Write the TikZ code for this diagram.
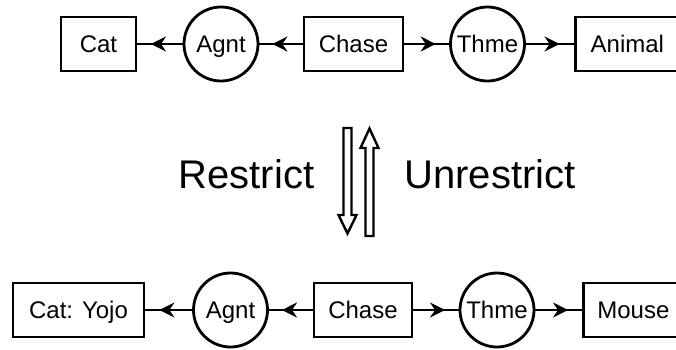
\documentclass[tikz,border=0pt]{standalone}
\usepackage{fontspec}
\setmainfont{Liberation Sans}
\usetikzlibrary{arrows.meta,positioning}

\begin{document}
\begin{tikzpicture}[x=1pt,y=-1pt
	,line width=2.8pt
	,font=\fontsize{24}{28}\selectfont
	,concept/.style={draw,rectangle,minimum height=54pt,inner sep=0pt
		,text height=17pt,text depth=0pt}
	,relation/.style={draw,circle,minimum size=74pt,inner sep=0pt
		,text height=17pt,text depth=0pt}
	,tip/.style={-{Stealth[length=15pt,width=15pt,inset=5pt]}}
	,hollow/.style={line width=2.4pt,miter limit=20}
	]
  \useasboundingbox (0,0) rectangle (676,349);
  \clip (0,0) rectangle (676,349);

  % general graph, top row
  \node[concept,minimum width=75pt] (cat) at (98.5,44) {Cat};
  \node[relation] (agnt) at (221,44) {Agnt};
  \node[concept,minimum width=99pt] (chase) at (353.5,44) {Chase};
  \node[relation] (thme) at (487.5,44) {Thme};
  \node[concept,minimum width=104pt,anchor=west] (animal) at (574,44) {Animal};

  % specialised graph, bottom row
  \node[concept,minimum width=131pt] (yojo) at (78.5,310) {Cat: Yojo};
  \node[relation] (agnt2) at (230.5,310) {Agnt};
  \node[concept,minimum width=98pt] (chase2) at (363,310) {Chase};
  \node[relation] (thme2) at (497,310) {Thme};
  \node[concept,minimum width=100pt,anchor=west] (mouse) at (582,310) {Mouse};

  % links, arrow head part way along
  \draw (agnt) -- coordinate[pos=0.7] (m1) (cat);
  \draw (chase) -- coordinate[pos=0.7] (m2) (agnt);
  \draw (chase) -- coordinate[pos=0.7] (m3) (thme);
  \draw (thme) -- coordinate[pos=0.7] (m4) (animal);
  \draw (agnt2) -- coordinate[pos=0.7] (m5) (yojo);
  \draw (chase2) -- coordinate[pos=0.7] (m6) (agnt2);
  \draw (chase2) -- coordinate[pos=0.7] (m7) (thme2);
  \draw (thme2) -- coordinate[pos=0.7] (m8) (mouse);
  \draw[tip] (agnt) -- (m1);
  \draw[tip] (chase) -- (m2);
  \draw[tip] (chase) -- (m3);
  \draw[tip] (thme) -- (m4);
  \draw[tip] (agnt2) -- (m5);
  \draw[tip] (chase2) -- (m6);
  \draw[tip] (chase2) -- (m7);
  \draw[tip] (thme2) -- (m8);

  % operations between the two graphs
  \node[font=\fontsize{40}{48}\selectfont] (restrict) at (246.5,174) {Restrict};
  \node[font=\fontsize{40}{48}\selectfont] (unrestrict) at (490,174) {Unrestrict};

  \draw[hollow] (343.5,128) -- (351.5,128) -- (351.5,215) -- (356.5,215)
	-- (347.5,233.5) -- (338.5,215) -- (343.5,215) -- cycle;
  \draw[hollow] (365.5,236) -- (373.5,236) -- (373.5,148) -- (378.5,148)
	-- (369.5,128.5) -- (360.5,148) -- (365.5,148) -- cycle;
\end{tikzpicture}
\end{document}
